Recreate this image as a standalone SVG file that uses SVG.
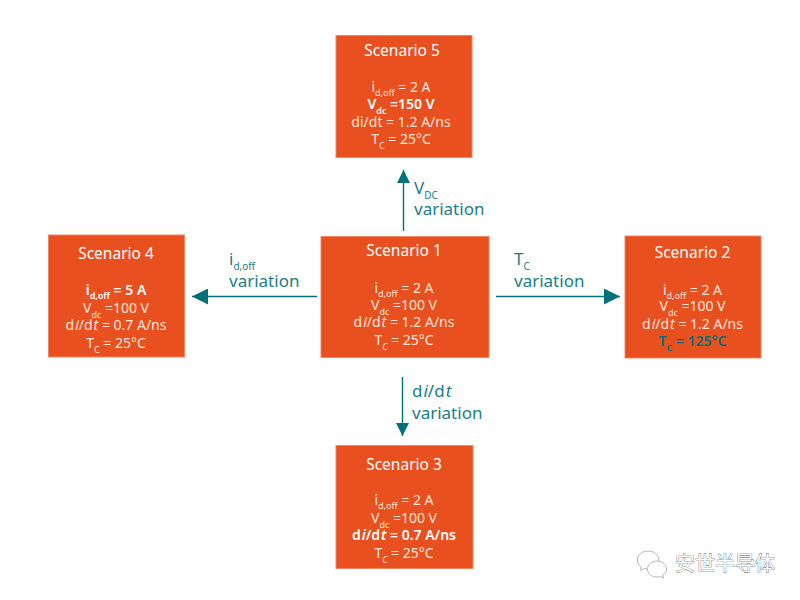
<svg xmlns="http://www.w3.org/2000/svg" width="800" height="600" viewBox="0 0 800 600">
  <style>
    text { font-family: "Noto Sans", "Open Sans", sans-serif; }
    .box { fill: #e8501f; stroke: #f0855f; stroke-width: 1; }
    .title { fill: #fff; font-size: 15.500px; text-anchor: middle; }
    .line { fill: #fde4da; font-size: 14px; text-anchor: middle; }
    .strong { fill: #fff; font-weight: 600; }
    .teal { fill: #00707a; font-weight: 600; }
    .sub { font-size: 9px; }
    .label { fill: #1a7d86; font-size: 17px; }
    .label .sub { font-size: 10px; }
    .link { stroke: #00707a; stroke-width: 1.400; fill: none; }
    .horizontal { marker-end: url(#head-wide); }
    .vertical { marker-end: url(#head-narrow); }
    .mark { fill: #fff; font-size: 20px; font-family: "Noto Sans CJK SC", sans-serif; stroke: #555; stroke-width: 0.700; paint-order: stroke; }
    .bubble { fill: #fff; stroke: #999; stroke-width: 0.700; }
  </style>
  <defs>
    <marker id="head-wide" markerUnits="userSpaceOnUse" markerWidth="17" markerHeight="16" refX="16" refY="8" orient="auto">
      <path d="M0 0L16 8L0 16Z" fill="#00707a"/>
    </marker>
    <marker id="head-narrow" markerUnits="userSpaceOnUse" markerWidth="14" markerHeight="14" refX="13" refY="7" orient="auto">
      <path d="M0 0.500L13 7L0 13.500Z" fill="#00707a"/>
    </marker>
  </defs>
  <rect width="800" height="600" fill="#fff"/>

  <g id="connectors">
    <line class="link vertical" x1="403.500" y1="231" x2="403.500" y2="170"/>
    <line class="link horizontal" x1="317" y1="296.500" x2="192" y2="296.500"/>
    <line class="link horizontal" x1="496" y1="296.500" x2="620" y2="296.500"/>
    <line class="link vertical" x1="402.500" y1="377" x2="402.500" y2="436"/>
    <text class="label" x="414" y="194">V<tspan class="sub" dy="5">DC</tspan></text>
    <text class="label" x="414" y="215">variation</text>
    <text class="label" x="229" y="265">i<tspan class="sub" dy="5">d,off</tspan></text>
    <text class="label" x="229" y="287">variation</text>
    <text class="label" x="514" y="265">T<tspan class="sub" dy="5">C</tspan></text>
    <text class="label" x="514" y="287">variation</text>
    <text class="label" x="412" y="397">d<tspan font-style="italic" dx="1">i</tspan>/d<tspan font-style="italic" dx="1">t</tspan></text>
    <text class="label" x="412" y="419">variation</text>
  </g>

  <g id="scenario-1">
    <rect class="box" x="321" y="236.500" width="168" height="121"/>
    <text class="title" x="404" y="256">Scenario 1</text>
    <text class="line" x="404" y="293">i<tspan class="sub" dy="4">d,off</tspan><tspan dy="-4"> = 2 A</tspan></text>
    <text class="line" x="404" y="310">V<tspan class="sub" dy="5">dc</tspan><tspan dy="-5"> =100 V</tspan></text>
    <text class="line" x="404" y="327">d<tspan font-style="italic" dx="1">i</tspan>/d<tspan font-style="italic" dx="1">t</tspan> = 1.2 A/ns</text>
    <text class="line" x="404" y="345">T<tspan class="sub" dy="5" font-style="italic">C</tspan><tspan dy="-5"> = 25°C</tspan></text>
  </g>

  <g id="scenario-2">
    <rect class="box" x="625" y="236" width="136" height="122"/>
    <text class="title" x="692.500" y="258">Scenario 2</text>
    <text class="line" x="692.500" y="295">i<tspan class="sub" dy="4">d,off</tspan><tspan dy="-4"> = 2 A</tspan></text>
    <text class="line" x="692.500" y="311">V<tspan class="sub" dy="5">dc</tspan><tspan dy="-5"> =100 V</tspan></text>
    <text class="line" x="692.500" y="329">d<tspan font-style="italic" dx="1">i</tspan>/d<tspan font-style="italic" dx="1">t</tspan> = 1.2 A/ns</text>
    <text class="line teal" x="692.500" y="346">T<tspan class="sub" dy="5">C</tspan><tspan dy="-5"> = 125°C</tspan></text>
  </g>

  <g id="scenario-3">
    <rect class="box" x="336" y="445.500" width="137" height="123"/>
    <text class="title" x="404" y="470">Scenario 3</text>
    <text class="line" x="404" y="505">i<tspan class="sub" dy="4">d,off</tspan><tspan dy="-4"> = 2 A</tspan></text>
    <text class="line" x="404" y="523">V<tspan class="sub" dy="5">dc</tspan><tspan dy="-5"> =100 V</tspan></text>
    <text class="line strong" x="404" y="540">d<tspan font-style="italic" dx="1">i</tspan>/d<tspan font-style="italic" dx="1">t</tspan> = 0.7 A/ns</text>
    <text class="line" x="404" y="558">T<tspan class="sub" dy="5" font-style="italic">C</tspan><tspan dy="-5"> = 25°C</tspan></text>
  </g>

  <g id="scenario-4">
    <rect class="box" x="48.500" y="235" width="136" height="122"/>
    <text class="title" x="116" y="259">Scenario 4</text>
    <text class="line strong" x="116" y="295">i<tspan class="sub" dy="4">d,off</tspan><tspan dy="-4"> = 5 A</tspan></text>
    <text class="line" x="116" y="313">V<tspan class="sub" dy="5">dc</tspan><tspan dy="-5"> =100 V</tspan></text>
    <text class="line" x="116" y="330">d<tspan font-style="italic" dx="1">i</tspan>/d<tspan font-style="italic" dx="1">t</tspan> = 0.7 A/ns</text>
    <text class="line" x="116" y="348">T<tspan class="sub" dy="5">C</tspan><tspan dy="-5"> = 25°C</tspan></text>
  </g>

  <g id="scenario-5">
    <rect class="box" x="336" y="35.500" width="136" height="122"/>
    <text class="title" x="402" y="56">Scenario 5</text>
    <text class="line" x="401" y="92">i<tspan class="sub" dy="4">d,off</tspan><tspan dy="-4"> = 2 A</tspan></text>
    <text class="line strong" x="401" y="109">V<tspan class="sub" dy="5">dc</tspan><tspan dy="-5"> =150 V</tspan></text>
    <text class="line" x="401" y="127">di/dt = 1.2 A/ns</text>
    <text class="line" x="401" y="144">T<tspan class="sub" dy="5">C</tspan><tspan dy="-5"> = 25°C</tspan></text>
  </g>

  <g id="brand">
    <path class="bubble" d="M648 551c-6 0-10.500 4-10.500 9 0 3 1.500 5.500 3.800 7l-.8 3.500 3.800-2c1.300.4 2.700.6 4 .6 6 0 10.500-4 10.500-9.100s-4.800-9-10.800-9z"/>
    <path class="bubble" d="M657 561c-5.500 0-9.500 3.500-9.500 8s4 8 9.500 8c1.100 0 2.300-.2 3.300-.5l3.200 1.500-.8-2.900c2.300-1.500 3.800-3.600 3.800-6.100 0-4.500-4-8-9.500-8z"/>
    <text class="mark" x="675" y="571">安世半导体</text>
  </g>
</svg>
